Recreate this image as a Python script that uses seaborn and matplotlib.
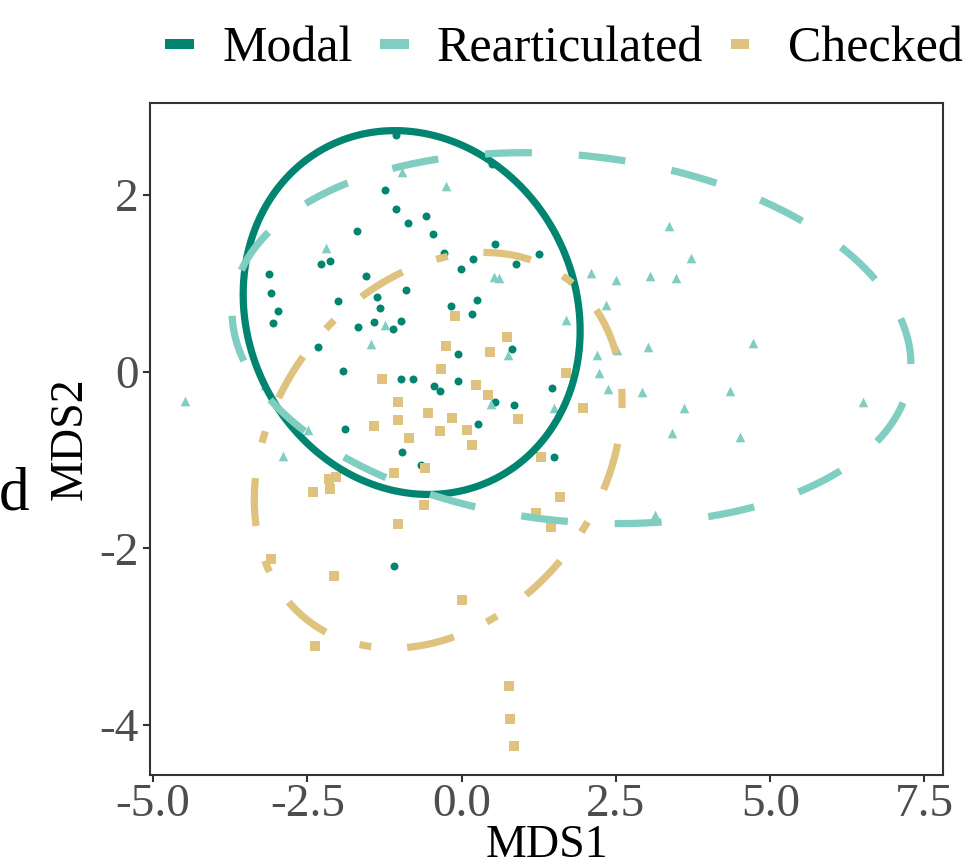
import numpy as np
import pandas as pd
import matplotlib
matplotlib.use("Agg")
import matplotlib.pyplot as plt
from matplotlib.lines import Line2D
import seaborn as sns

# ---------------- data ----------------
groups = ["Modal", "Rearticulated", "Checked"]
colors = ["#018571", "#80CDC1", "#DFC27D"]

modal_x = [-1.06, 0.49, -1.24, -1.06, -0.58, -0.87, -1.70, -0.46, 0.54, -0.29,
           1.25, 0.18, -2.13, -2.28, 0.88, -0.01, -3.12, -1.55, -0.90, -3.09,
           -1.37, 0.25, -2.00, -0.17, -1.32, -2.98, 0.17, -0.98, -1.42, -3.06,
           -1.68, -1.11, -2.33, 0.82, -0.06, -1.92, -0.98, -0.79, -0.06, -0.45,
           1.47, -0.35, 0.54, 0.85, 0.27, -1.89, -0.97, 1.50, -0.66, -1.10]
modal_y = [2.68, 2.35, 2.06, 1.84, 1.76, 1.68, 1.59, 1.56, 1.45, 1.34,
           1.33, 1.28, 1.25, 1.22, 1.22, 1.16, 1.11, 1.08, 0.93, 0.89,
           0.85, 0.81, 0.80, 0.74, 0.72, 0.69, 0.65, 0.57, 0.56, 0.55,
           0.51, 0.48, 0.28, 0.26, 0.20, 0.01, -0.08, -0.08, -0.11, -0.16,
           -0.18, -0.22, -0.34, -0.38, -0.59, -0.65, -0.91, -0.97, -1.06, -2.20]

rearticulated_x = [-0.97, -0.25, 3.36, -2.20, 3.72, 2.10, 3.05, 0.53, 0.61, 3.47,
                   2.50, 2.34, 1.69, -1.24, 4.72, -1.47, 3.02, 2.52, 0.75, 2.19,
                   2.23, -3.19, 2.37, 4.35, 2.92, -4.48, 6.51, 0.48, 1.50, 3.60,
                   -2.49, 3.41, 4.51, -2.89, 3.13]
rearticulated_y = [2.26, 2.10, 1.65, 1.40, 1.29, 1.12, 1.08, 1.07, 1.06, 1.06,
                   1.04, 0.76, 0.59, 0.53, 0.33, 0.31, 0.28, 0.25, 0.19, 0.19,
                   -0.01, -0.15, -0.20, -0.22, -0.23, -0.33, -0.34, -0.37, -0.41, -0.41,
                   -0.66, -0.69, -0.74, -0.95, -1.62]

checked_x = [-0.11, 0.74, -0.25, 0.46, -0.33, 1.69, -1.29, 0.23, 0.43, -1.03,
             1.97, -0.54, -0.16, 0.91, -1.03, -1.42, 0.09, -0.35, -0.85, 0.17,
             1.29, -0.59, -1.10, -2.04, -2.15, -2.13, -2.41, 1.59, -0.61, 1.21,
             -1.03, 1.45, -3.09, -2.07, 0.01, -2.38, 0.77, 0.78, 0.85]
checked_y = [0.63, 0.39, 0.29, 0.22, 0.03, -0.01, -0.08, -0.15, -0.26, -0.34,
             -0.41, -0.47, -0.52, -0.54, -0.55, -0.61, -0.66, -0.67, -0.75, -0.83,
             -0.97, -1.09, -1.15, -1.19, -1.22, -1.33, -1.36, -1.42, -1.51, -1.60,
             -1.72, -1.76, -2.12, -2.31, -2.59, -3.11, -3.56, -3.93, -4.24]

# 95% ellipse per group: centre, half-extent along x and y, correlation
ell_cx = [-0.81, 1.78, -0.38]
ell_cy = [0.67, 0.38, -0.89]
ell_sx = [2.73, 5.50, 2.98]
ell_sy = [2.06, 2.10, 2.24]
ell_rho = [-0.10, -0.14, 0.25]

x_ticks = [-5.0, -2.5, 0.0, 2.5, 5.0, 7.5]
x_tick_labels = ["-5.0", "-2.5", "0.0", "2.5", "5.0", "7.5"]
y_ticks = [-4, -2, 0, 2]
y_tick_labels = ["-4", "-2", "0", "2"]

# ---------------- styling ----------------
sns.set_theme(style="white")
plt.rcParams["font.family"] = ["Liberation Serif", "DejaVu Serif"]
plt.rcParams["lines.scale_dashes"] = False

df = pd.concat([
    pd.DataFrame({"MDS1": modal_x, "MDS2": modal_y, "group": "Modal"}),
    pd.DataFrame({"MDS1": rearticulated_x, "MDS2": rearticulated_y, "group": "Rearticulated"}),
    pd.DataFrame({"MDS1": checked_x, "MDS2": checked_y, "group": "Checked"}),
], ignore_index=True)

markers = {"Modal": "o", "Rearticulated": "^", "Checked": "s"}
msizes = {"Modal": 33, "Rearticulated": 48, "Checked": 44}
linestyles = {"Modal": "-", "Rearticulated": (0, (33.8, 33.8)),
              "Checked": (0, (8.6, 25.9, 34.6, 25.9))}
palette = dict(zip(groups, colors))

fig = plt.figure(figsize=(9.69, 8.68), dpi=100)
ax = fig.add_axes([150 / 969, 1 - 775 / 868, (943 - 150) / 969, (775 - 102.7) / 868])

for g in groups:
    sub = df[df["group"] == g]
    sns.scatterplot(data=sub, x="MDS1", y="MDS2", color=palette[g], marker=markers[g],
                    s=msizes[g], linewidth=0, ax=ax, legend=False, zorder=2)

t = np.linspace(0, 2 * np.pi, 361)
for i, g in enumerate(groups):
    ex = ell_cx[i] + ell_sx[i] * np.cos(t)
    ey = ell_cy[i] + ell_sy[i] * (ell_rho[i] * np.cos(t) + np.sqrt(1 - ell_rho[i] ** 2) * np.sin(t))
    ax.plot(ex, ey, color=palette[g], lw=5.2, linestyle=linestyles[g],
            dash_capstyle="butt", solid_capstyle="butt", zorder=3 + i)

ax.set_xlim(-5.05, 7.80)
ax.set_ylim(-4.567, 3.046)
ax.set_xticks(x_ticks)
ax.set_xticklabels(x_tick_labels)
ax.set_yticks(y_ticks)
ax.set_yticklabels(y_tick_labels)
ax.tick_params(axis="both", which="major", length=5, width=1.5, color="#333333",
               labelsize=34, labelcolor="#4D4D4D", bottom=True, left=True)
ax.tick_params(axis="x", pad=1)
ax.tick_params(axis="y", pad=3)
for sp in ax.spines.values():
    sp.set_color("#333333")
    sp.set_linewidth(1.5)
ax.grid(False)

ax.set_xlabel("MDS1", fontsize=33, color="black")
ax.set_ylabel("MDS2", fontsize=33, color="black")
ax.xaxis.set_label_coords(0.5, -0.074)
ax.yaxis.set_label_coords(-0.073, 0.5)

handles = [
    Line2D([], [], color=colors[0], lw=7.2, solid_capstyle="butt"),
    Line2D([], [], color=colors[1], lw=7.2, solid_capstyle="butt"),
    Line2D([], [], color=colors[2], lw=7.2, linestyle=(0, (13, 40)), dash_capstyle="butt"),
]
fig.legend(handles, groups, loc="center left", bbox_to_anchor=(165 / 969, 0.943),
           bbox_transform=fig.transFigure, ncol=3, frameon=False, fontsize=36,
           handlelength=0.58, handletextpad=0.56, columnspacing=0.55,
           borderpad=0, borderaxespad=0, labelcolor="black")

fig.text(-1 / 969, 1 - 510 / 868, "d", fontsize=44, color="black", va="baseline", ha="left")

fig.savefig("out.png", dpi=100)
